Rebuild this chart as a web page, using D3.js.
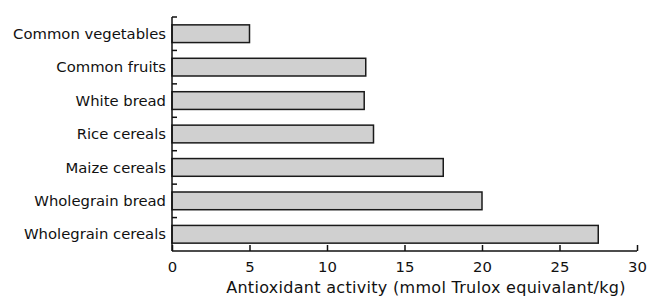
<!DOCTYPE html>
<html>
<head>
<meta charset="utf-8">
<script src="https://cdn.jsdelivr.net/npm/d3@7"></script>
<style>
  body { margin: 0; background: #fff; }
  svg text { font-family: "DejaVu Sans", sans-serif; fill: #111; }
</style>
</head>
<body>
<div id="chart"></div>
<script>
var categories = ['Common vegetables','Common fruits','White bread','Rice cereals','Maize cereals','Wholegrain bread','Wholegrain cereals'];
var values = [5, 12.5, 12.4, 13, 17.5, 20, 27.5];
var xTicks = [0, 5, 10, 15, 20, 25, 30];

var width = 647, height = 296;
var margin = {left:172, right:10, top:17, bottom:45};
var fontSize = "14.8px";

var svg = d3.select("#chart").append("svg")
    .attr("width", width)
    .attr("height", height);

var x = d3.scaleLinear()
    .domain([0, 30])
    .range([margin.left, 637]);

var y = d3.scaleBand()
    .domain(categories)
    .range([margin.top, height - margin.bottom])
    .paddingInner(0.47)
    .paddingOuter(0.235);

var yb = d3.scaleLinear().domain([0, categories.length]).range([margin.top, height - margin.bottom]);

// bars
svg.selectAll("rect.bar")
    .data(values)
    .enter().append("rect")
      .attr("class","bar")
      .attr("x", x(0))
      .attr("y", function(d,i){ return y(categories[i]); })
      .attr("width", function(d){ return x(d) - x(0); })
      .attr("height", y.bandwidth())
      .attr("fill","#d0d0d0")
      .attr("stroke","#1a1a1a")
      .attr("stroke-width",1.5);

// y axis: line + ticks at band boundaries
svg.append("line")
    .attr("x1", x(0)).attr("x2", x(0))
    .attr("y1", yb(0)).attr("y2", yb(categories.length))
    .attr("stroke","#111").attr("stroke-width",1.5);

svg.selectAll("line.ytick")
    .data(d3.range(categories.length))
    .enter().append("line")
      .attr("class","ytick")
      .attr("x1", x(0)).attr("x2", x(0) + 5)
      .attr("y1", function(d){ return yb(d); })
      .attr("y2", function(d){ return yb(d); })
      .attr("stroke","#111").attr("stroke-width",1.5);

svg.selectAll("text.ylab")
    .data(categories)
    .enter().append("text")
      .attr("class","ylab")
      .attr("x", x(0) - 6)
      .attr("y", function(d){ return y(d) + y.bandwidth()/2; })
      .attr("dy","0.35em")
      .attr("text-anchor","end")
      .attr("font-size",fontSize)
      .text(function(d){ return d; });

// x axis
var xAxis = d3.axisBottom(x).tickValues(xTicks).tickSize(-6).tickPadding(10);
var gx = svg.append("g")
    .attr("transform","translate(0," + yb(categories.length) + ")")
    .call(xAxis);
gx.select(".domain").attr("d", "M" + x(0) + ",0H" + x(30)).attr("stroke","#111").attr("stroke-width",1.5);
gx.selectAll(".tick line").attr("stroke","#111").attr("stroke-width",1.5);
gx.selectAll(".tick text").attr("font-size",fontSize).attr("font-family","DejaVu Sans, sans-serif").attr("fill","#111");

svg.append("text")
    .attr("x", 426)
    .attr("y", 293)
    .attr("text-anchor","middle")
    .attr("font-size","16px")
    .attr("letter-spacing","0.3px")
    .text("Antioxidant activity (mmol Trulox equivalant/kg)");
</script>
</body>
</html>
